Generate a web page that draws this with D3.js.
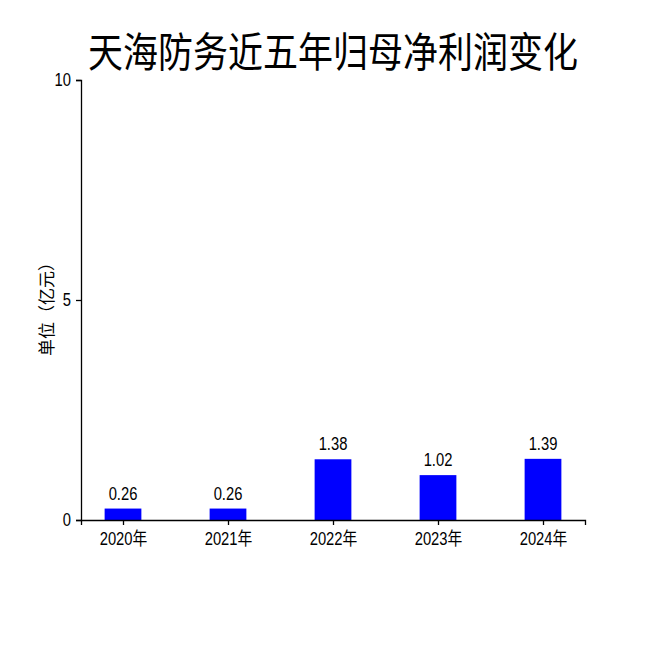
<!DOCTYPE html>
<html>
<head>
<meta charset="utf-8">
<script src="https://cdn.jsdelivr.net/npm/d3@7"></script>
<style>
  body { margin: 0; background: #fff; }
  text { font-family: "Liberation Sans", "Noto Sans CJK SC", sans-serif; }
  .cjk { font-family: "Noto Sans CJK SC", sans-serif; }
</style>
</head>
<body>
<svg width="650" height="650"></svg>
<script>
// Data
var years = ["2020年", "2021年", "2022年", "2023年", "2024年"];
var profits = [0.26, 0.26, 1.38, 1.02, 1.39];
var yTicks = [0, 5, 10];

var svg = d3.select("svg"),
    margin = {top: 80, right: 65, bottom: 130, left: 81},
    width = +svg.attr("width") - margin.left - margin.right,
    height = +svg.attr("height") - margin.top - margin.bottom,
    g = svg.append("g").attr("transform", "translate(" + margin.left + "," + margin.top + ")");

var x = d3.scalePoint().domain(years).range([0, width]).padding(0.4),
    y = d3.scaleLinear().domain([0, 10]).range([height, 0]),
    barW = x.step() * 0.35;

// squeeze text horizontally, the reference uses a narrow face
function narrow(sel) {
  sel.each(function() {
    var w = this.getComputedTextLength();
    d3.select(this)
      .attr("textLength", w * 0.82)
      .attr("lengthAdjust", "spacingAndGlyphs");
  });
}

// Title, squeezed to the reference width (~490px)
var title = svg.append("g").attr("class", "title");
var titleText = title.append("text")
  .attr("class", "cjk")
  .attr("text-anchor", "middle")
  .style("font-size", "41px")
  .text("天海防务近五年归母净利润变化");
var tw = titleText.node().getComputedTextLength();
title.attr("transform", "translate(333,67) scale(" + Math.min(1, 490 / tw) + ",1)");

// Bars
g.selectAll(".bar")
  .data(profits)
  .enter()
  .append("rect")
  .attr("class", "bar")
  .attr("x", function(d, i) { return x(years[i]) - barW / 2; })
  .attr("y", function(d) { return y(d); })
  .attr("width", barW)
  .attr("height", function(d) { return height - y(d); })
  .attr("fill", "#0000ff");

// Value labels
g.selectAll(".val")
  .data(profits)
  .enter()
  .append("text")
  .attr("class", "val")
  .attr("x", function(d, i) { return x(years[i]); })
  .attr("y", function(d) { return y(d) - 9; })
  .attr("text-anchor", "middle")
  .style("font-size", "18px")
  .text(function(d) { return d.toFixed(2); })
  .call(narrow);

// X axis
var xAxis = g.append("g")
  .attr("transform", "translate(0," + height + ")")
  .call(d3.axisBottom(x).tickSizeOuter(0).tickSize(5).tickPadding(7));
xAxis.selectAll("text").style("font-size", "18px").attr("fill", "#000").call(narrow);

// Y axis
var yAxis = g.append("g")
  .call(d3.axisLeft(y).tickValues(yTicks).tickSizeOuter(0).tickSize(5).tickPadding(5));
yAxis.selectAll("text").style("font-size", "18px").attr("fill", "#000").call(narrow);
g.selectAll(".domain, .tick line").attr("stroke", "#000").attr("stroke-width", 1.3);

// Y label
g.append("text")
  .attr("class", "cjk")
  .attr("transform", "rotate(-90)")
  .attr("x", -(y(5) + 5))
  .attr("y", -28)
  .attr("text-anchor", "middle")
  .style("font-size", "17px")
  .text("单位（亿元）");
</script>
</body>
</html>
